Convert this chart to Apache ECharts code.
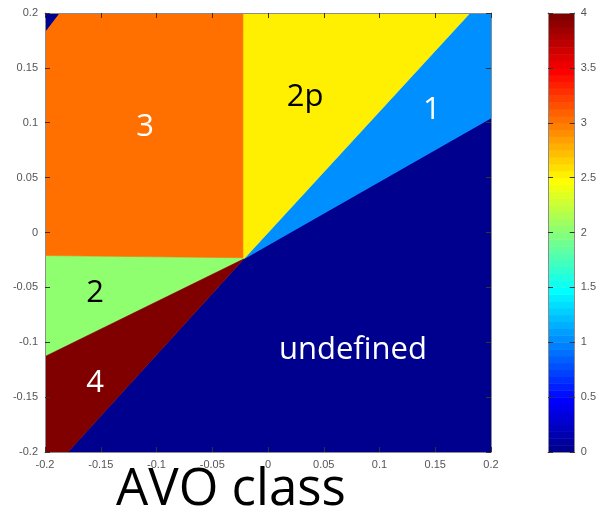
<!DOCTYPE html>
<html>
<head>
<meta charset="utf-8">
<script src="https://cdn.jsdelivr.net/npm/echarts@6/dist/echarts.min.js"></script>
<style>
  html, body { margin: 0; padding: 0; background: #ffffff; }
  #chart { width: 599px; height: 510px; }
</style>
</head>
<body>
<div id="chart"></div>
<script>
// Tick labels of the intercept/gradient axes and of the colour bar
const axisTicks = [-0.2, -0.15, -0.1, -0.05, 0, 0.05, 0.1, 0.15, 0.2];
const colorbarTicks = [0, 0.5, 1, 1.5, 2, 2.5, 3, 3.5, 4];

// Class value of each region on the 0-4 colour scale
const regionValues = [0, 0, 1, 2, 2.5, 3, 4];

// Region outlines as [intercept, gradient] vertices
const undefinedRegion = [[-0.0215, -0.024], [0.2, 0.1043], [0.2, -0.2], [-0.1794, -0.2]];
const cornerRegion    = [[-0.2, 0.2], [-0.1865, 0.2], [-0.2, 0.182]];
const class1Region    = [[-0.0215, -0.024], [0.1812, 0.2], [0.2, 0.2], [0.2, 0.1043]];
const class2Region    = [[-0.2, -0.021], [-0.0225, -0.023], [-0.0215, -0.024], [-0.2, -0.113]];
const class2pRegion   = [[-0.0225, -0.023], [-0.0225, 0.2], [0.1812, 0.2], [-0.0215, -0.024]];
const class3Region    = [[-0.2, 0.182], [-0.1865, 0.2], [-0.0225, 0.2], [-0.0225, -0.023], [-0.2, -0.021]];
const class4Region    = [[-0.2, -0.113], [-0.0215, -0.024], [-0.1794, -0.2], [-0.2, -0.2]];
const regionOutlines = [undefinedRegion, cornerRegion, class1Region, class2Region,
                        class2pRegion, class3Region, class4Region];

// Class annotations placed inside the regions
const labelTexts = ['3', '2p', '1', '2', '4', 'undefined'];
const labelX     = [-0.1103, 0.0332, 0.147, -0.155, -0.155, 0.0762];
const labelY     = [0.0961, 0.1235, 0.1116, -0.0551, -0.137, -0.107];
const labelColors = ['#ffffff', '#000000', '#ffffff', '#000000', '#ffffff', '#ffffff'];

// 64-level jet colormap
const JET_LEVELS = 64;
function jetRow(k) { // k: 1..64
  const n = 16;
  const u = [];
  for (let i = 1; i <= n; i++) u.push(i / n);
  for (let i = 1; i < n; i++) u.push(1);
  for (let i = n; i >= 1; i--) u.push(i / n);
  const pick = (idx) => (idx >= 1 && idx <= u.length) ? u[idx - 1] : 0;
  const r = pick(k - 24), g = pick(k - 8), b = pick(k + 8);
  const h = (c) => Math.round(c * 255).toString(16).padStart(2, '0');
  return '#' + h(r) + h(g) + h(b);
}
const CMIN = 0, CMAX = 4;
function jetColor(v) {
  let k = Math.floor((v - CMIN) / (CMAX - CMIN) * JET_LEVELS) + 1;
  k = Math.max(1, Math.min(JET_LEVELS, k));
  return jetRow(k);
}

const regionData = regionValues.map((v, i) => [v, i]);
const bandData = [];
for (let k = 0; k < JET_LEVELS; k++) {
  bandData.push([k * (CMAX - CMIN) / JET_LEVELS, (k + 1) * (CMAX - CMIN) / JET_LEVELS, k + 1]);
}

const fmt = (v) => String(parseFloat(Number(v).toFixed(2)));
const labelFont = 'Liberation Sans';
const tickStyle = { show: true, inside: true, length: 5, lineStyle: { color: '#333', width: 1 } };
const lineStyle = { show: true, onZero: false, lineStyle: { color: '#8c8c8c', width: 1 } };
const axisLabel = { color: '#555', fontFamily: labelFont, fontSize: 11 };
const AXIS_Z = 10;

const chart = echarts.init(document.getElementById('chart'), null, { renderer: 'canvas' });

chart.setOption({
  animation: false,
  backgroundColor: '#ffffff',
  grid: [
    { left: 45, top: 13, width: 446, height: 439, show: false },
    { left: 548, top: 13, width: 33, height: 439, show: false }
  ],
  xAxis: [
    { gridIndex: 0, z: AXIS_Z, type: 'value', position: 'bottom', min: -0.2, max: 0.2, interval: 0.05,
      axisLine: lineStyle, axisTick: tickStyle, splitLine: { show: false },
      axisLabel: Object.assign({ margin: 7, formatter: fmt, showMinLabel: true, showMaxLabel: true }, axisLabel) },
    { gridIndex: 0, z: AXIS_Z, type: 'value', position: 'top', min: -0.2, max: 0.2, interval: 0.05,
      axisLine: lineStyle, axisTick: tickStyle, splitLine: { show: false }, axisLabel: { show: false } },
    { gridIndex: 1, z: AXIS_Z, type: 'value', position: 'bottom', min: 0, max: 1,
      axisLine: lineStyle, axisTick: { show: false }, splitLine: { show: false }, axisLabel: { show: false } },
    { gridIndex: 1, z: AXIS_Z, type: 'value', position: 'top', min: 0, max: 1,
      axisLine: lineStyle, axisTick: { show: false }, splitLine: { show: false }, axisLabel: { show: false } }
  ],
  yAxis: [
    { gridIndex: 0, z: AXIS_Z, type: 'value', position: 'left', min: -0.2, max: 0.2, interval: 0.05,
      axisLine: lineStyle, axisTick: tickStyle, splitLine: { show: false },
      axisLabel: Object.assign({ margin: 7, formatter: fmt, showMinLabel: true, showMaxLabel: true }, axisLabel) },
    { gridIndex: 0, z: AXIS_Z, type: 'value', position: 'right', min: -0.2, max: 0.2, interval: 0.05,
      axisLine: lineStyle, axisTick: tickStyle, splitLine: { show: false }, axisLabel: { show: false } },
    { gridIndex: 1, z: AXIS_Z, type: 'value', position: 'right', min: 0, max: 4, interval: 0.5,
      axisLine: lineStyle, axisTick: tickStyle, splitLine: { show: false },
      axisLabel: Object.assign({ margin: 6, formatter: fmt, showMinLabel: true, showMaxLabel: true }, axisLabel) },
    { gridIndex: 1, z: AXIS_Z, type: 'value', position: 'left', min: 0, max: 4, interval: 0.5,
      axisLine: lineStyle, axisTick: tickStyle, splitLine: { show: false }, axisLabel: { show: false } }
  ],
  graphic: [{
    type: 'text', left: 116, top: 465, z: 20,
    style: { text: 'AVO class', fill: '#000', font: '51px "Open Sans"' }
  }],
  series: [
    {
      type: 'custom', xAxisIndex: 0, yAxisIndex: 0, clip: true, z: 1,
      data: regionData,
      renderItem: function (params, api) {
        const idx = api.value(1);
        const pts = regionOutlines[idx].map(p => api.coord(p));
        const c = jetColor(api.value(0));
        return { type: 'polygon', shape: { points: pts },
                 style: { fill: c, stroke: c, lineWidth: 0.6 } };
      }
    },
    {
      type: 'scatter', xAxisIndex: 0, yAxisIndex: 0, z: 5, symbolSize: 0, silent: true,
      itemStyle: { opacity: 1 },
      data: labelTexts.map((t, i) => ({
        value: [labelX[i], labelY[i]], name: t,
        label: { color: labelColors[i] }
      })),
      label: { show: true, position: 'inside', formatter: '{b}', opacity: 1,
               fontFamily: 'Open Sans', fontSize: 31 }
    },
    {
      type: 'custom', xAxisIndex: 2, yAxisIndex: 2, clip: true, z: 1,
      data: bandData,
      renderItem: function (params, api) {
        const p0 = api.coord([0, api.value(0)]);
        const p1 = api.coord([1, api.value(1)]);
        const c = jetRow(api.value(2));
        return { type: 'rect',
                 shape: { x: p0[0], y: p1[1], width: p1[0] - p0[0], height: p0[1] - p1[1] + 0.5 },
                 style: { fill: c } };
      }
    }
  ]
});
</script>
</body>
</html>
